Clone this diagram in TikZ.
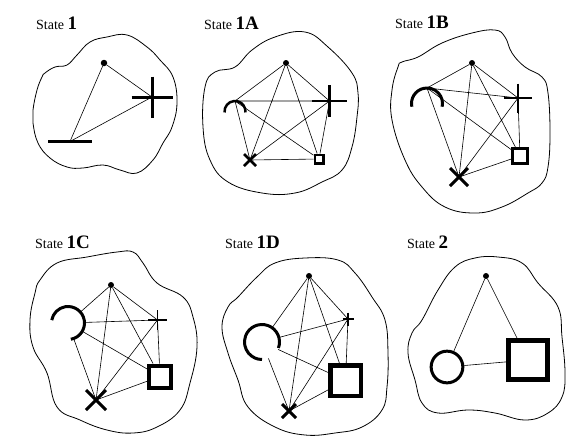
\documentclass[tikz,border=0pt]{standalone}
\usepackage{fontspec}
\setmainfont{Liberation Serif}
\newcommand\plusmk[4]{\draw[line width=#4] (#1) ++(-#2,0) -- ++(2*#2,0); \draw[line width=#4] (#1) ++(0,-#3) -- ++(0,2*#3);}
\newcommand\xmk[3]{\draw[line width=#3] (#1) ++(-#2,-#2) -- ++(2*#2,2*#2); \draw[line width=#3] (#1) ++(-#2,#2) -- ++(2*#2,-2*#2);}
\begin{document}
\begin{tikzpicture}[x=1pt,y=-1pt,
  edge/.style={line width=0.6pt},
  blob/.style={line width=0.8pt},
  dot/.style={circle,fill,inner sep=0pt,minimum size=6pt},
  sq/.style={rectangle,draw,inner sep=0pt},
  arcnode/.style={circle,inner sep=0pt},
  lbl/.style={anchor=base west,inner sep=0pt,font=\fontsize{14}{16}\selectfont},
  num/.style={font=\bfseries\fontsize{19}{20}\selectfont}]
\useasboundingbox (0,0) rectangle (581,440);
\fill[white] (0,0) rectangle (581,440);

% labels
\node[lbl] (l1) at (36,29) {State {\bfseries\fontsize{19}{20}\selectfont 1}};
\node[lbl] (l2) at (204,29) {State {\bfseries\fontsize{19}{20}\selectfont 1A}};
\node[lbl] (l3) at (395,28) {State {\bfseries\fontsize{19}{20}\selectfont 1B}};
\node[lbl] (l4) at (35,248) {State {\bfseries\fontsize{19}{20}\selectfont 1C}};
\node[lbl] (l5) at (225,248) {State {\bfseries\fontsize{19}{20}\selectfont 1D}};
\node[lbl] (l6) at (407,248) {State {\bfseries\fontsize{19}{20}\selectfont 2}};

% blobs
\draw[blob] plot[smooth cycle,tension=0.7] coordinates {(45,73) (55,67) (67,65) (77,55) (90,42) (107,37) (127,35) (147,47) (160,60) (173,77) (177,103) (172,127) (163,143) (153,160) (137,173) (120,170) (103,165) (83,168) (67,167) (50,158) (38,143) (33,123) (33,110) (37,90) (42,77)};
\draw[blob] plot[smooth cycle,tension=0.7] coordinates {(215,72) (235,67) (252,50) (275,37) (305,32) (328,47) (352,73) (358,93) (357,117) (352,147) (342,170) (322,182) (295,193) (262,193) (228,182) (210,160) (203,127) (205,87)};
\draw[blob] plot[smooth cycle,tension=0.7] coordinates {(402,62) (418,57) (442,43) (472,33) (495,30) (505,37) (512,53) (525,67) (542,77) (548,93) (550,133) (548,167) (542,183) (528,193) (502,207) (475,213) (445,207) (422,187) (405,160) (392,120) (392,90) (398,67)};
\draw[blob] plot[smooth cycle,tension=0.7] coordinates {(40,280) (57,263) (87,257) (117,252) (133,252) (143,263) (157,283) (183,297) (193,317) (197,347) (190,383) (180,410) (157,427) (133,433) (107,430) (80,420) (57,407) (47,373) (33,347) (30,320) (35,293)};
\draw[blob] plot[smooth cycle,tension=0.7] coordinates {(238,297) (257,277) (275,263) (305,258) (338,260) (355,273) (372,297) (385,320) (388,353) (387,387) (382,410) (362,427) (335,433) (305,435) (275,427) (248,407) (238,380) (228,353) (222,327) (228,307)};
\draw[blob] plot[smooth cycle,tension=0.7] coordinates {(422,320) (438,290) (455,267) (475,258) (498,257) (522,263) (538,283) (558,307) (562,337) (565,373) (562,397) (548,413) (525,420) (495,413) (468,410) (438,413) (422,403) (415,380) (408,353) (412,333)};

% ---------- State 1
\node[dot,minimum size=6.5pt] (d1) at (104,63) {};
\coordinate (p1) at (152,97);
\coordinate (b1) at (70,141.5);
\draw[edge] (d1) -- (p1) (d1) -- (b1) (b1) -- (p1);
\plusmk{p1}{20.5}{20.5}{3pt}
\draw[line width=3pt] (b1) ++(-22,0) -- ++(44,0);

% ---------- State 1A
\node[dot] (d2) at (286,63) {};
\coordinate (a2) at (235,101);
\coordinate (p2) at (329.5,101);
\coordinate (x2) at (250,160);
\node[sq,line width=2.5pt,minimum size=8.5pt] (s2) at (319,159) {};
\draw[edge] (d2) -- (a2) (d2) -- (p2) (d2) -- (x2) (d2) -- (s2)
  (a2) -- (p2) (a2) -- (x2) (a2) -- (s2) (p2) -- (x2) (p2) -- (s2) (x2) -- (s2);
\draw[line width=2.5pt] (a2) ++(0,10.5) ++(175:10.5) arc[start angle=175,end angle=365,radius=10.5];
\plusmk{p2}{17.5}{16}{2.8pt}
\xmk{x2}{6}{2.5pt}

% ---------- State 1B
\node[dot] (d3) at (472,63) {};
\coordinate (a3) at (427,88);
\coordinate (p3) at (518,98);
\coordinate (x3) at (459,177);
\node[sq,line width=3pt,minimum size=14.7pt] (s3) at (520,156) {};
\draw[edge] (d3) -- (a3) (d3) -- (p3) (d3) -- (x3) (d3) -- (s3)
  (a3) -- (p3) (a3) -- (x3) (a3) -- (s3) (p3) -- (x3) (p3) -- (s3) (x3) -- (s3);
\draw[line width=3pt] (a3) ++(0,15.5) ++(168:15.5) arc[start angle=168,end angle=372,radius=15.5];
\plusmk{p3}{14}{14.5}{2pt}
\xmk{x3}{9}{3pt}

% ---------- State 1C
\node[dot] (d4) at (111,285) {};
\node[arcnode,minimum size=33pt] (a4) at (68,323) {};
\coordinate (p4) at (157.5,320);
\coordinate (x4) at (96,400);
\node[sq,line width=4pt,minimum size=22pt] (s4) at (160,376.5) {};
\draw[edge] (d4) -- (a4) (d4) -- (p4) (d4) -- (x4) (d4) -- (s4)
  (a4) -- (p4) (a4) -- (x4) (a4) -- (s4) (p4) -- (x4) (p4) -- (s4) (x4) -- (s4);
\draw[line width=3pt] (a4.center) ++(80:16.5) arc[start angle=80,end angle=-170,radius=16.5];
\plusmk{p4}{9.5}{10}{1.8pt}
\xmk{x4}{10}{3pt}

% ---------- State 1D
\node[dot] (d5) at (309,276) {};
\node[arcnode,minimum size=35pt] (a5) at (262,342) {};
\coordinate (p5) at (348,319);
\coordinate (x5) at (289,411);
\node[sq,line width=4.5pt,minimum size=30.5pt] (s5) at (345.5,380.5) {};
\draw[edge] (d5) -- (a5) (d5) -- (p5) (d5) -- (x5) (d5) -- (s5)
  (a5) -- (p5) (a5) -- (x5) (a5) -- (s5) (p5) -- (x5) (p5) -- (s5) (x5) -- (s5);
\draw[line width=3pt] (a5.center) ++(20:17.5) arc[start angle=20,end angle=-270,radius=17.5];
\plusmk{p5}{5.5}{6.5}{1.5pt}
\xmk{x5}{7}{3pt}

% ---------- State 2
\node[dot] (d6) at (486,276) {};
\node[circle,draw,line width=3pt,inner sep=0pt,minimum size=31.7pt] (c6) at (447,367) {};
\node[sq,line width=5pt,minimum size=39pt] (s6) at (528,360) {};
\draw[edge] (d6) -- (c6) (d6) -- (s6) (c6) -- (s6);
\end{tikzpicture}
\end{document}
